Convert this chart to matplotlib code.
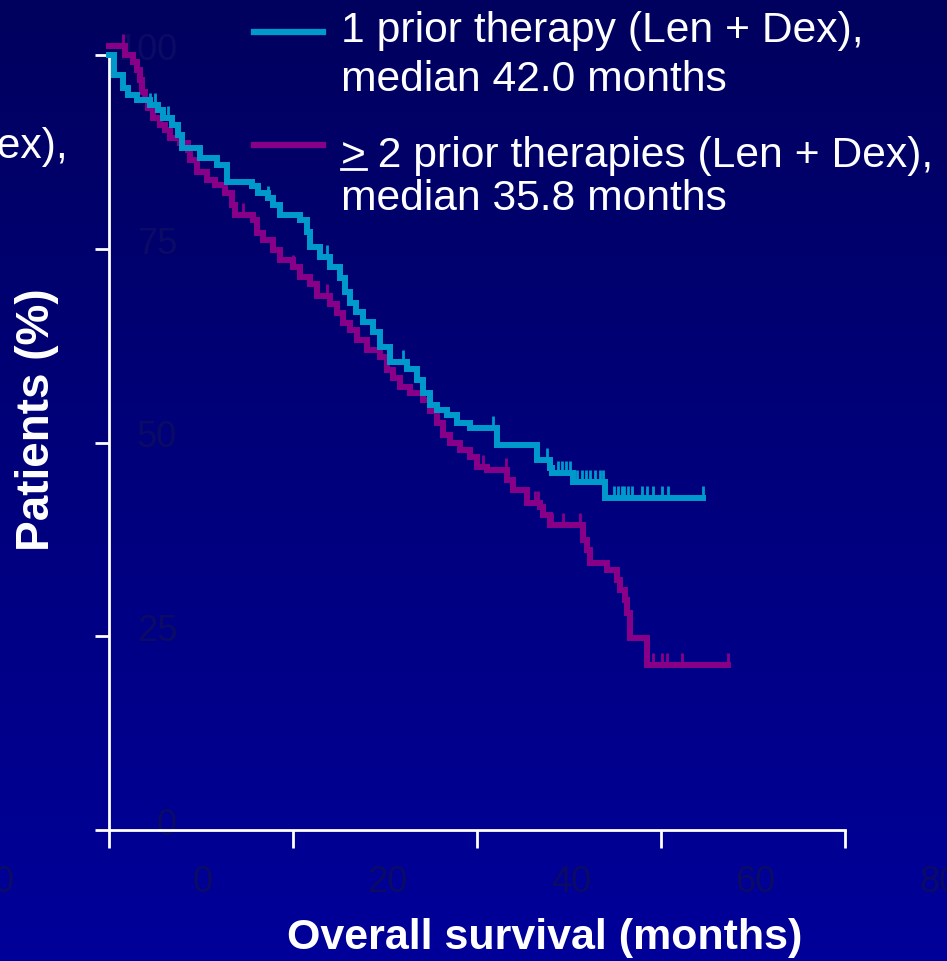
import numpy as np
import matplotlib
matplotlib.use("Agg")
import matplotlib.pyplot as plt
from matplotlib.colors import LinearSegmentedColormap
from matplotlib.lines import Line2D

plt.rcParams['font.family'] = ['Liberation Sans', 'DejaVu Sans']

# Kaplan-Meier steps: time (months) and survival (%) after each drop
cyan_t = [0, 0.54, 1.52, 2.07, 3.04, 4.46, 5.33, 5.87, 6.85, 7.50,
          7.93, 9.89, 11.74, 12.83, 15.54, 16.20, 17.28, 17.83, 18.59, 20.76,
          21.52, 21.85, 22.93, 24.02, 25.11, 25.65, 26.20, 26.85, 27.61, 28.70,
          29.46, 30.54, 32.39, 33.48, 34.13, 34.89, 35.65, 36.74, 37.83, 39.24,
          42.17, 46.52, 47.93, 48.15, 50.43, 53.91, 64.57]
cyan_s = [100.0, 97.4, 95.7, 94.8, 94.2, 93.5, 92.9, 91.9, 91.0, 89.7,
          88.0, 86.7, 85.8, 83.6, 83.1, 82.2, 81.5, 80.6, 79.4, 78.7,
          77.2, 75.2, 73.9, 72.6, 71.2, 69.4, 68.0, 66.8, 65.5, 64.3,
          62.3, 60.4, 59.5, 58.1, 56.4, 54.8, 54.2, 53.5, 52.5, 51.9,
          49.7, 47.7, 46.7, 46.1, 44.9, 42.8, 42.8]
cyan_cens = [4.46, 5.0, 6.41, 9.89, 17.28, 18.59, 23.70, 31.96, 41.74, 47.61,
             48.8, 49.24, 49.67, 50.11, 50.87, 51.41, 51.85, 52.28, 52.83, 53.37,
             53.70, 54.92, 55.36, 55.73, 55.98, 56.45, 56.82, 57.9, 58.45, 59.16,
             60.08, 60.8, 64.53]

mag_t = [0, 1.74, 2.61, 3.04, 3.37, 3.59, 3.91, 4.24, 4.78, 5.54,
         6.09, 6.63, 7.72, 8.59, 8.80, 9.57, 10.65, 11.52, 12.61, 13.37,
         13.70, 15.65, 16.09, 16.74, 17.83, 18.59, 20.0, 20.76, 21.85, 22.61,
         24.02, 24.78, 25.43, 26.20, 26.96, 28.04, 29.46, 30.22, 30.87, 31.63,
         32.72, 34.13, 34.89, 35.65, 36.30, 37.07, 38.15, 39.24, 40.0, 41.09,
         43.26, 43.91, 45.43, 46.85, 47.17, 47.93, 51.52, 51.96, 52.28, 54.13,
         55.22, 55.54, 56.09, 56.30, 56.63, 58.48, 67.28]
mag_s = [101.2, 100.0, 99.1, 98.1, 96.8, 95.2, 94.2, 93.2, 91.9, 91.0,
         90.3, 89.3, 88.6, 87.7, 86.5, 84.9, 83.9, 83.2, 82.2, 80.6,
         79.4, 78.7, 77.0, 76.1, 74.8, 73.5, 72.6, 71.4, 70.5, 68.9,
         67.9, 66.7, 65.4, 64.5, 63.2, 61.9, 61.0, 59.4, 58.3, 57.2,
         56.4, 55.5, 54.1, 52.5, 51.0, 49.9, 49.0, 48.1, 46.8, 46.5,
         45.2, 43.9, 42.2, 41.7, 40.6, 39.4, 37.4, 36.1, 34.5, 33.5,
         32.3, 31.0, 29.7, 28.0, 24.8, 21.3, 21.3]
mag_cens = [1.52, 14.57, 20.0, 23.70, 31.63, 40.65, 43.15, 46.3, 46.6, 48.15,
            49.3, 51.2, 59.13, 60.11, 60.65, 62.28, 67.28]

x_ticks = [0, 20, 40, 60, 80]
y_ticks = [0, 25, 50, 75, 100]
# faint labels left over from the underlying graph
x_faint = ["0", "0", "20", "40", "60", "80"]
x_faint_pos = [-11.5, 10.2, 30.2, 50.2, 70.2, 90.3]
y_faint = ["0", "25", "50", "75", "100"]

CYAN = '#0099cc'
MAGENTA = '#880088'
FAINT = '#0b0b66'

W, H = 947, 961
fig = plt.figure(figsize=(W / 100, H / 100), dpi=100)

# vertical navy gradient
bg = fig.add_axes([0, 0, 1, 1], zorder=-10)
grad = np.linspace(0, 1, 256).reshape(-1, 1)
cmap = LinearSegmentedColormap.from_list('navy', ['#00005e', '#00009a'])
bg.imshow(grad, aspect='auto', cmap=cmap, extent=[0, 1, 0, 1], origin='upper')
bg.set_axis_off()

ax = fig.add_axes([109 / W, 131 / H, 736 / W, 775 / H])
ax.set_facecolor('none')
ax.set_xlim(0, 80)
ax.set_ylim(0, 100)

for sp in ['top', 'right']:
    ax.spines[sp].set_visible(False)
for sp in ['left', 'bottom']:
    ax.spines[sp].set_color('white')
    ax.spines[sp].set_linewidth(2)

ax.set_xticks(x_ticks)
ax.set_yticks(y_ticks)
ax.tick_params(axis='x', length=13, width=2, color='white', labelbottom=False)
ax.tick_params(axis='y', length=10, width=2, color='white', labelleft=False)

tick_marker = [(0, 0), (0, 1)]


def km(t, s, cens, color):
    ax.step(t, s, where='post', color=color, lw=4.3, clip_on=False,
            solid_joinstyle='miter', zorder=3)
    idx = np.searchsorted(t, cens, side='right') - 1
    ax.plot(cens, np.asarray(s)[idx], ls='none', marker=tick_marker,
            markersize=18, markeredgewidth=2, color=color, clip_on=False,
            zorder=3)


km(mag_t, mag_s, mag_cens, MAGENTA)
km(cyan_t, cyan_s, cyan_cens, CYAN)

for lab, pos in zip(x_faint, x_faint_pos):
    ax.text(pos, -6.8, lab, color=FAINT, fontsize=26, ha='center',
            va='center', clip_on=False)
for lab, val in zip(y_faint, y_ticks):
    ax.text(7.4, val + 0.6, lab, color=FAINT, fontsize=26, ha='right',
            va='center', clip_on=False, zorder=1)

fig.text(545 / W, 1 - 938 / H, 'Overall survival (months)', color='white',
         fontsize=31, fontweight='bold', ha='center', va='center')
fig.text(37 / W, 1 - 420 / H, 'Patients (%)', color='white', fontsize=33,
         fontweight='bold', ha='center', va='center', rotation=90)

# legend
fig.add_artist(Line2D([254 / W, 323 / W], [1 - 32 / H] * 2, color=CYAN, lw=4.5))
fig.add_artist(Line2D([254 / W, 323 / W], [1 - 145 / H] * 2, color=MAGENTA, lw=4.5))
fs = 30.7
fig.text(341 / W, 1 - 42 / H, '1 prior therapy (Len + Dex),', color='white',
         fontsize=fs, va='baseline')
fig.text(341 / W, 1 - 91 / H, 'median 42.0 months', color='white',
         fontsize=fs, va='baseline')
fig.text(341 / W, 1 - 167 / H, '> 2 prior therapies (Len + Dex),', color='white',
         fontsize=fs, va='baseline')
fig.add_artist(Line2D([341 / W, 366 / W], [1 - 169 / H] * 2, color='white', lw=2))
fig.text(341 / W, 1 - 210 / H, 'median 35.8 months', color='white',
         fontsize=fs, va='baseline')

# tail of a neighbouring panel's legend
fig.text(-34 / W, 1 - 158 / H, 'Dex),', color='white', fontsize=fs,
         va='baseline')

fig.savefig('out.png', dpi=100)
